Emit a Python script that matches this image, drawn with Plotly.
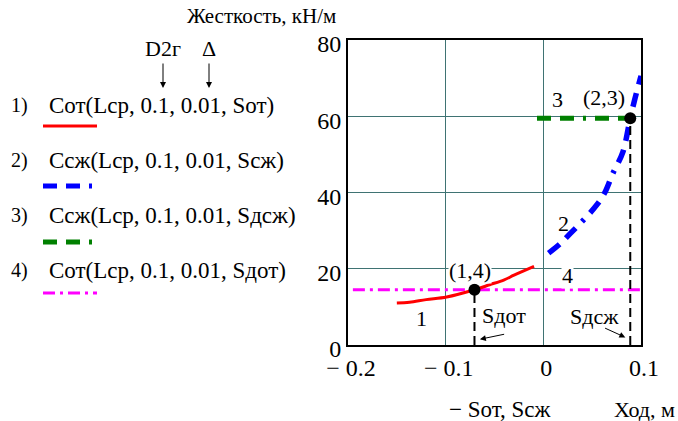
import plotly.graph_objects as go

# Curve 1: tension stiffness Cот vs stroke (negative side)
x_ot = [-0.150, -0.137, -0.120, -0.099, -0.0705, -0.055, -0.040, -0.030, -0.0095]
y_ot = [11.0, 11.2, 11.9, 12.6, 14.5, 15.8, 17.1, 18.3, 20.6]

# Curve 2: compression stiffness Cсж vs stroke
x_szh = [0.0054, 0.017, 0.029, 0.042, 0.0555, 0.063, 0.071, 0.0813, 0.089, 0.0932, 0.100]
y_szh = [24.1, 26.5, 29.6, 33.0, 37.0, 40.0, 44.9, 50.5, 59.5, 64.0, 70.6]

# Line 3: Cсж at Sдсж, line 4: Cот at Sдот
x_dszh = [-0.0065, 0.089]
y_dszh = [59.5, 59.5]
x_dot = [-0.195, 0.100]
y_dot = [14.5, 14.5]

# Intersection points (1,4) and (2,3)
s_dot, c_dot = -0.0705, 14.5
s_dszh, c_dszh = 0.089, 59.5

x_ticks = [-0.2, -0.1, 0, 0.1]
x_ticktext = ["\u2212 0.2", "\u2212 0.1", "0", "0.1"]
y_ticks = [0, 20, 40, 60, 80]

legend_rows = [
    ("1)", "Cот(Lср, 0.1, 0.01, Sот)"),
    ("2)", "Cсж(Lср, 0.1, 0.01, Sсж)"),
    ("3)", "Cсж(Lср, 0.1, 0.01, Sдсж)"),
    ("4)", "Cот(Lср, 0.1, 0.01, Sдот)"),
]

SERIF = "Liberation Serif"
RED, BLUE, GREEN, MAGENTA = "#ff0000", "#0000ff", "#008000", "#ff00ff"
DASH_23 = "14px,9px,14px,9px,3px,9px"
DASH_4 = "12px,5px,3px,5px"

W, H = 678, 421
PL, PR, PT, PB = 348, 641, 40, 345


def px(x):
    return (x - PL) / (PR - PL)


def py(y):
    return (PB - y) / (PB - PT)


fig = go.Figure()

fig.add_trace(go.Scatter(x=x_dot, y=y_dot, mode="lines",
                         line=dict(color=MAGENTA, width=3, dash=DASH_4)))
fig.add_trace(go.Scatter(x=x_dszh, y=y_dszh, mode="lines",
                         line=dict(color=GREEN, width=5, dash=DASH_23)))
fig.add_trace(go.Scatter(x=x_ot, y=y_ot, mode="lines",
                         line=dict(color=RED, width=3, shape="spline")))
fig.add_trace(go.Scatter(x=x_szh, y=y_szh, mode="lines",
                         line=dict(color=BLUE, width=5.5, dash=DASH_23, shape="spline")))

# drop lines from the intersection points to the stroke axis
for sx, cy in [(s_dot, c_dot), (s_dszh, c_dszh)]:
    fig.add_trace(go.Scatter(x=[sx, sx], y=[0, cy], mode="lines",
                             line=dict(color="black", width=2, dash="9px,5px")))

fig.add_trace(go.Scatter(x=[s_dot, s_dszh], y=[c_dot, c_dszh], mode="markers",
                         marker=dict(color="black", size=12)))

anns = []


def label(x, y, text, bg=None, size=22):
    anns.append(dict(x=x, y=y, xref="x", yref="y", text=text, showarrow=False,
                     xanchor="center", yanchor="middle",
                     font=dict(family=SERIF, size=size, color="black"),
                     bgcolor=bg, borderpad=0))


def page_text(x, y, text, size=22, xanchor="center"):
    anns.append(dict(x=px(x), y=py(y), xref="paper", yref="paper", text=text,
                     showarrow=False, xanchor=xanchor, yanchor="middle",
                     font=dict(family=SERIF, size=size, color="black")))


label(-0.125, 7.0, "1")
label(0.021, 32.0, "2")
label(0.0145, 64.5, "3")
label(0.0245, 18.3, "4", bg="white")
label(-0.075, 19.6, "(1,4)", bg="white")
label(0.0625, 64.9, "(2,3)")
label(-0.040, 7.8, "Sдот")
label(0.052, 7.4, "Sдсж")

# pointer arrows to the drop lines
for hx, hy, tx, ty in [(-0.065, 1.5, -0.0386, 2.9), (0.084, 2.0, 0.0617, 4.6)]:
    anns.append(dict(x=hx, y=hy, ax=tx, ay=ty, xref="x", yref="y", axref="x", ayref="y",
                     text="", showarrow=True, arrowhead=2, arrowsize=1.2,
                     arrowwidth=1, arrowcolor="black"))

# axis captions
page_text(261, 16, "Жесткость, кН/м", size=21)
page_text(500, 409, "\u2212 Sот, Sсж", size=23)
page_text(644, 409, "Ход, м")

# parameter captions with arrows
for cx, text in [(163, "D2г"), (209, "Δ")]:
    page_text(cx, 49, text)
    anns.append(dict(x=px(cx), y=py(88), ax=0, ay=-26, xref="paper", yref="paper",
                     axref="pixel", ayref="pixel", text="", showarrow=True,
                     arrowhead=2, arrowsize=1.2, arrowwidth=1, arrowcolor="black"))

# formula legend
row_y = [105, 160, 216, 270]
sample_y = [126, 186, 242, 293]
styles = [(RED, 3, "solid"), (BLUE, 5, DASH_23), (GREEN, 5, DASH_23), (MAGENTA, 3, DASH_4)]
shapes = []
for (num, formula), ty, sy, (col, wd, ds) in zip(legend_rows, row_y, sample_y, styles):
    page_text(9, ty, num, size=20, xanchor="left")
    page_text(47, ty, formula, size=23, xanchor="left")
    shapes.append(dict(type="line", xref="paper", yref="paper",
                       x0=px(43), x1=px(97), y0=py(sy), y1=py(sy),
                       line=dict(color=col, width=wd, dash=ds)))

axis_common = dict(showgrid=True, gridcolor="#3f7373", gridwidth=1, zeroline=False,
                   showline=True, linecolor="black", linewidth=2, mirror=True,
                   ticks="", tickfont=dict(family=SERIF, size=24, color="black"))

fig.update_layout(
    width=W, height=H,
    margin=dict(l=PL, r=W - PR, t=PT, b=H - PB, pad=0),
    paper_bgcolor="white", plot_bgcolor="white",
    showlegend=False,
    font=dict(family=SERIF),
    annotations=anns, shapes=shapes,
    xaxis=dict(range=[-0.2, 0.1], tickvals=x_ticks, ticktext=x_ticktext,
               ticklabelstandoff=0, ticklabelshift=3, **axis_common),
    yaxis=dict(range=[0, 80], tickvals=y_ticks, ticklabelstandoff=0,
               ticklabelshift=4, **axis_common),
)

fig.write_html("out.html")
